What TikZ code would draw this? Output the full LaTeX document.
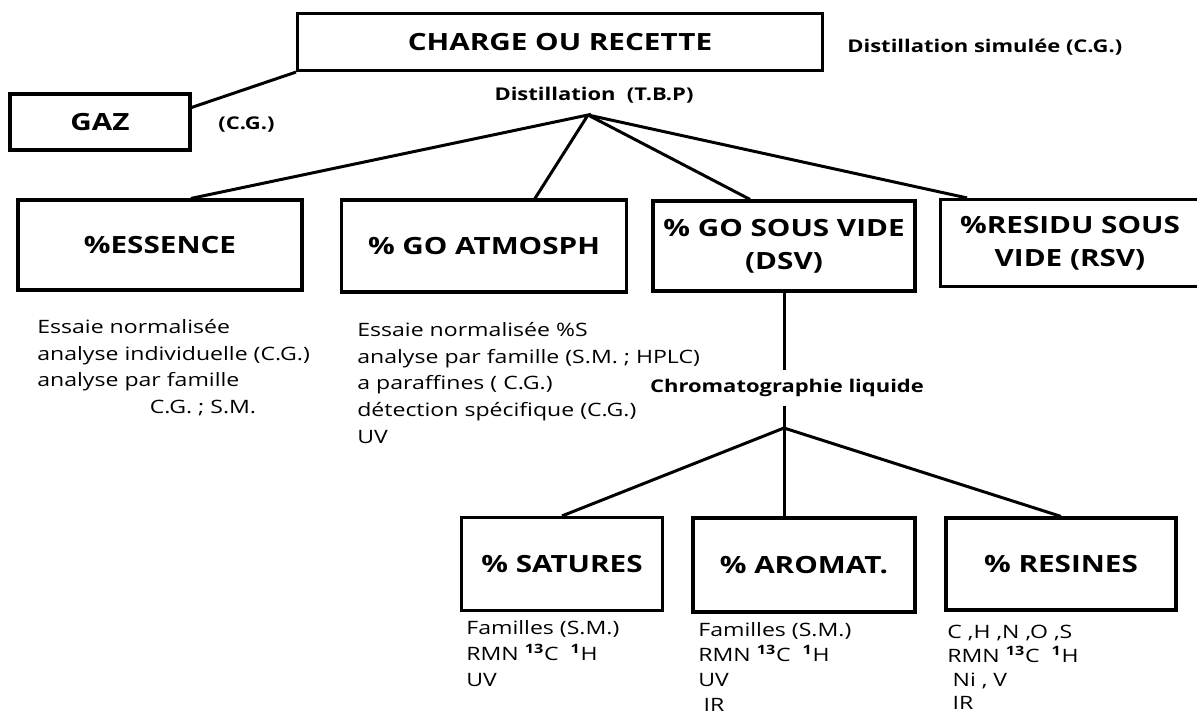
\documentclass[tikz,border=0pt]{standalone}
\usepackage{fontspec}
\setmainfont[FakeStretch=1.25]{Open Sans}

\tikzset{
  box/.style={draw, line width=1.8pt, inner sep=0pt, align=center,
    font=\bfseries\fontsize{13.5}{19}\selectfont},
  link/.style={line width=1.7pt},
  note/.style={inner sep=0pt, font=\bfseries\fontsize{10}{12}\selectfont},
  info/.style={anchor=north west, inner sep=0pt, align=left,
    font=\fontsize{10.5}{15.2}\selectfont},
}

\begin{document}
\begin{tikzpicture}[x=0.02cm, y=-0.02cm]
  \useasboundingbox (0,0) rectangle (1197,719);

  % charge and distillation
  \node[box, minimum width=10.5cm, minimum height=1.14cm] (charge) at (560,42) {CHARGE OU RECETTE};
  \node[box, minimum width=3.6cm, minimum height=1.12cm] (gaz) at (100,122) {GAZ};
  \node[note, anchor=west] (simul) at (847,47) {Distillation simulée (C.G.)};
  \node[note, anchor=west] (gazcg) at (218,125) {(C.G.)};
  \node[note] (tbp) at (594,95) {Distillation\ \ (T.B.P)};
  \coordinate (split) at (588,115);

  \node[box, minimum width=5.68cm, minimum height=1.8cm] (ess) at (160,245) {\%ESSENCE};
  \node[box, minimum width=5.7cm, minimum height=1.84cm] (atmo) at (484,246) {\% GO ATMOSPH};
  \node[box, minimum width=5.24cm, minimum height=1.8cm] (dsv) at (784,246) {\% GO SOUS VIDE\\(DSV)};
  \node[box, minimum width=5.18cm, minimum height=1.74cm] (rsv) at (1070,243) {\%RESIDU SOUS\\VIDE (RSV)};

  \draw[link] (gaz.9) -- (charge.south west);
  \draw[link] ([xshift=0.62cm]ess.north) -- (split) -- ([xshift=1.02cm]atmo.north);
  \draw[link] (split) -- ([xshift=-0.68cm]dsv.north);
  \draw[link] (split) -- ([xshift=-2.06cm]rsv.north);

  % chromatographie liquide
  \node[note, inner ysep=5pt] (cl) at (787,388) {Chromatographie liquide};
  \coordinate (split2) at (784,428);

  \node[box, minimum width=4.02cm, minimum height=1.86cm] (sat) at (562,564) {\% SATURES};
  \node[box, minimum width=4.44cm, minimum height=1.88cm] (aro) at (804,565) {\% AROMAT.};
  \node[box, minimum width=4.6cm, minimum height=1.84cm] (res) at (1061,564) {\% RESINES};

  \draw[link] (dsv.south) -- (dsv.south |- cl.north);
  \draw[link] (dsv.south |- cl.south) -- (split2 |- aro.north);
  \draw[link] (sat.north) -- (split2) -- (res.north);

  % analyses
  \node[info] (essinfo) at (37,319) {Essaie normalisée\\analyse individuelle (C.G.)\\analyse par famille\\\hspace*{64pt}C.G. ; S.M.};
  \node[info] (atmoinfo) at (357,322) {Essaie normalisée \%S\\analyse par famille (S.M. ; HPLC)\\a paraffines ( C.G.)\\détection spécifique (C.G.)\\UV};
  \node[info, font=\fontsize{10.5}{14.8}\selectfont] (satinfo) at (466,620) {Familles (S.M.)\\RMN \textsuperscript{\bfseries 13}C\ \ \textsuperscript{\bfseries 1}H\\UV};
  \node[info, font=\fontsize{10.5}{14.3}\selectfont] (aroinfo) at (698,622) {Familles (S.M.)\\RMN \textsuperscript{\bfseries 13}C\ \ \textsuperscript{\bfseries 1}H\\UV\\\hspace*{3pt}IR};
  \node[info, font=\fontsize{10.5}{13.5}\selectfont] (resinfo) at (947,625) {C ,H ,N ,O ,S\\RMN \textsuperscript{\bfseries 13}C\ \ \textsuperscript{\bfseries 1}H\\\hspace*{3pt}Ni , V\\\hspace*{3pt}IR};

\end{tikzpicture}
\end{document}
